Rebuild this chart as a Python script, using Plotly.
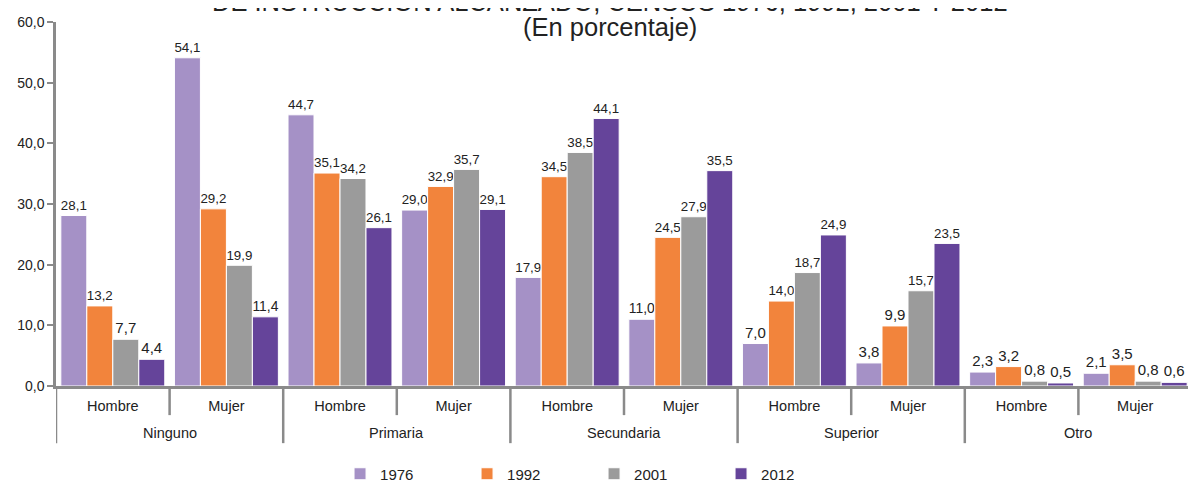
import plotly.graph_objects as go

groups = ["Ninguno", "Primaria", "Secundaria", "Superior", "Otro"]
sexes = ["Hombre", "Mujer"]
years = ["1976", "1992", "2001", "2012"]
v1976 = [28.1, 54.1, 44.7, 29.0, 17.9, 11.0, 7.0, 3.8, 2.3, 2.1]
v1992 = [13.2, 29.2, 35.1, 32.9, 34.5, 24.5, 14.0, 9.9, 3.2, 3.5]
v2001 = [7.7, 19.9, 34.2, 35.7, 38.5, 27.9, 18.7, 15.7, 0.8, 0.8]
v2012 = [4.4, 11.4, 26.1, 29.1, 44.1, 35.5, 24.9, 23.5, 0.5, 0.6]
colors = ["#A591C6", "#F2843C", "#9B9B9B", "#65449A"]

FONT = "Liberation Sans, Arial, sans-serif"
sub_labels = [s for g in groups for s in sexes]
xpos = list(range(len(sub_labels)))

fig = go.Figure()
for name, vals, col in zip(years, [v1976, v1992, v2001, v2012], colors):
    fig.add_trace(go.Bar(
        x=xpos, y=vals, name=name,
        marker=dict(color=col, line=dict(color="white", width=1)),
        texttemplate="%{y:.1f}", textposition="outside",
        textfont=dict(family=FONT, size=15, color="#222"),
        cliponaxis=False,
    ))

grey = "#8A8A8A"
shapes = []
n = len(sub_labels)
for i in range(n + 1):
    xb = i - 0.5
    is_group = (i % len(sexes) == 0)
    shapes.append(dict(type="line", xref="x", yref="paper", x0=xb, x1=xb,
                       y0=0, y1=-0.157 if is_group else -0.08,
                       line=dict(color=grey, width=2.5)))

annotations = []
for gi, g in enumerate(groups):
    xc = gi * len(sexes) + (len(sexes) - 1) / 2
    annotations.append(dict(x=xc, xref="x", y=-0.129, yref="paper", text=g,
                            showarrow=False, yanchor="middle",
                            font=dict(family=FONT, size=14.5, color="#222")))
annotations.append(dict(x=0.4877, xref="paper", y=0.986, yref="paper", yanchor="middle",
                        text="(En porcentaje)", showarrow=False,
                        font=dict(family=FONT, size=25.5, color="#222")))
annotations.append(dict(x=0.4877, xref="paper", y=1.056, yref="paper", yanchor="middle",
                        text="DE INSTRUCCIÓN ALCANZADO, CENSOS 1976, 1992, 2001 Y 2012",
                        showarrow=False,
                        font=dict(family=FONT, size=25.5, color="#222")))

fig.update_layout(
    width=1188, height=474,
    margin=dict(l=48, r=4, t=14, b=96, autoexpand=False),
    paper_bgcolor="white", plot_bgcolor="white",
    separators=",.",
    barmode="group", bargap=0.085, bargroupgap=0,
    font=dict(family=FONT, size=14, color="#222"),
    showlegend=True,
    legend=dict(orientation="h", xref="container", x=0.2795, xanchor="left",
                yref="container", y=0.0169, yanchor="middle",
                entrywidth=82, entrywidthmode="pixels",
                font=dict(family=FONT, size=15, color="#222"), itemwidth=30,
                traceorder="normal"),
    shapes=shapes, annotations=annotations,
    xaxis=dict(range=[-0.5, n - 0.5], tickvals=xpos, ticktext=sub_labels,
               ticks="", showgrid=False, showline=True, linecolor=grey, linewidth=2.5,
               ticklabelstandoff=5, tickfont=dict(family=FONT, size=14.5, color="#222"),
               zeroline=False, automargin=False),
    yaxis=dict(range=[0, 60], dtick=10, tickformat=".1f", ticks="outside", ticklen=6,
               tickcolor=grey, tickwidth=2, showline=True, linecolor=grey, linewidth=2.5,
               showgrid=False, zeroline=False, automargin=False,
               tickfont=dict(family=FONT, size=14, color="#222")),
)

fig.write_html("out.html")
